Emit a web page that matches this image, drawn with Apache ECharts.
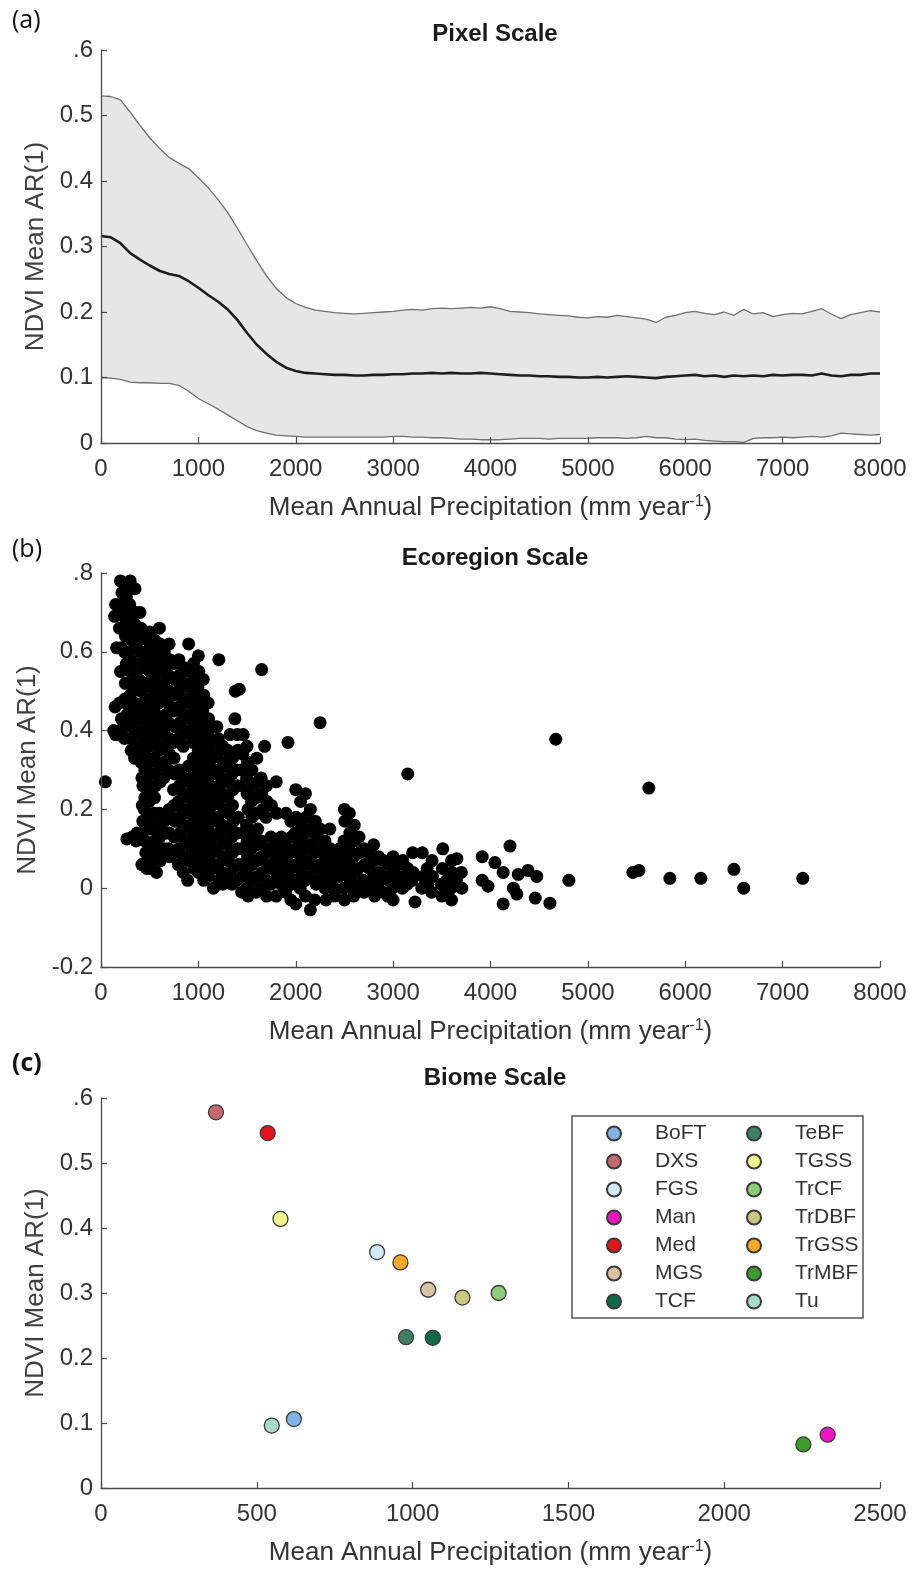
<!DOCTYPE html>
<html>
<head>
<meta charset="utf-8">
<title>NDVI Mean AR(1) vs Mean Annual Precipitation</title>
<script src="https://cdn.jsdelivr.net/npm/echarts@6/dist/echarts.min.js"></script>
<style>
  html, body { margin: 0; padding: 0; background: #fff; }
  #chart { width: 912px; height: 1570px; }
</style>
</head>
<body>
<div id="chart"></div>
<script>
// ---------- (a) Pixel scale: band of AR(1) across precipitation ----------
const pixelPrecip = [
  0, 100, 200, 300, 400, 500, 600, 700, 800, 900,
  1000, 1100, 1200, 1300, 1400, 1500, 1600, 1700, 1800, 1900,
  2000, 2100, 2200, 2300, 2400, 2500, 2600, 2700, 2800, 2900,
  3000, 3100, 3200, 3300, 3400, 3500, 3600, 3700, 3800, 3900,
  4000, 4100, 4200, 4300, 4400, 4500, 4600, 4700, 4800, 4900,
  5000, 5100, 5200, 5300, 5400, 5500, 5600, 5700, 5800, 5900,
  6000, 6100, 6200, 6300, 6400, 6500, 6600, 6700, 6800, 6900,
  7000, 7100, 7200, 7300, 7400, 7500, 7600, 7700, 7800, 7900, 8000
];
const pixelUpper = [
  0.530, 0.529, 0.524, 0.505, 0.485, 0.466, 0.450, 0.436, 0.427, 0.419,
  0.405, 0.390, 0.372, 0.352, 0.328, 0.303, 0.278, 0.255, 0.236, 0.222,
  0.213, 0.207, 0.203, 0.201, 0.199, 0.198, 0.197, 0.198, 0.199, 0.200,
  0.201, 0.203, 0.204, 0.203, 0.205, 0.206, 0.205, 0.206, 0.207, 0.206,
  0.208, 0.205, 0.201, 0.200, 0.199, 0.197, 0.196, 0.195, 0.194, 0.192,
  0.191, 0.193, 0.192, 0.195, 0.193, 0.191, 0.189, 0.184, 0.192, 0.195,
  0.199, 0.201, 0.198, 0.196, 0.200, 0.195, 0.204, 0.197, 0.199, 0.193,
  0.196, 0.198, 0.197, 0.201, 0.205, 0.197, 0.190, 0.196, 0.199, 0.202, 0.200
];
const pixelMean = [
  0.316, 0.314, 0.305, 0.290, 0.280, 0.271, 0.263, 0.258, 0.255, 0.247,
  0.237, 0.226, 0.216, 0.204, 0.188, 0.168, 0.150, 0.136, 0.124, 0.115,
  0.110, 0.107, 0.106, 0.105, 0.104, 0.104, 0.103, 0.103, 0.104, 0.104,
  0.105, 0.105, 0.106, 0.106, 0.107, 0.106, 0.107, 0.106, 0.106, 0.107,
  0.106, 0.105, 0.104, 0.103, 0.103, 0.102, 0.102, 0.101, 0.101, 0.100,
  0.100, 0.101, 0.100, 0.101, 0.102, 0.101, 0.100, 0.099, 0.101, 0.102,
  0.103, 0.104, 0.102, 0.103, 0.101, 0.103, 0.102, 0.103, 0.102, 0.104,
  0.103, 0.104, 0.104, 0.103, 0.106, 0.103, 0.102, 0.104, 0.104, 0.106, 0.106
];
const pixelLower = [
  0.100, 0.099, 0.097, 0.093, 0.092, 0.092, 0.091, 0.091, 0.088, 0.079,
  0.068, 0.060, 0.052, 0.043, 0.034, 0.025, 0.019, 0.015, 0.012, 0.011,
  0.010, 0.009, 0.009, 0.009, 0.009, 0.009, 0.009, 0.009, 0.009, 0.009,
  0.010, 0.010, 0.009, 0.009, 0.008, 0.008, 0.007, 0.006, 0.006, 0.005,
  0.005, 0.005, 0.006, 0.007, 0.007, 0.007, 0.006, 0.007, 0.007, 0.007,
  0.007, 0.008, 0.008, 0.008, 0.007, 0.008, 0.010, 0.008, 0.008, 0.006,
  0.005, 0.006, 0.004, 0.003, 0.002, 0.002, 0.001, 0.007, 0.008, 0.008,
  0.009, 0.008, 0.009, 0.010, 0.009, 0.011, 0.015, 0.014, 0.013, 0.012, 0.013
];

// ---------- (b) Ecoregion scale: [precipitation, AR(1)] per ecoregion ----------
const ecoregionPoints = [
  [45,0.27],
  [150,0.72],[140,0.69],[160,0.61],[145,0.46],[130,0.40],[150,0.39],
  [200,0.78],[215,0.75],[195,0.72],[205,0.70],[190,0.66],[210,0.61],[200,0.55],[190,0.47],[210,0.43],[195,0.40],
  [250,0.77],[260,0.74],[245,0.71],[255,0.68],[250,0.64],[240,0.60],[260,0.57],[250,0.52],[245,0.48],[265,0.44],[250,0.41],[240,0.38],[265,0.125],
  [300,0.78],[310,0.76],[295,0.72],[305,0.69],[300,0.66],[315,0.63],[295,0.60],[305,0.58],[300,0.55],[310,0.52],[300,0.49],[290,0.46],[305,0.42],[300,0.38],[310,0.35],[320,0.13],
  [350,0.76],[360,0.70],[345,0.67],[355,0.64],[350,0.61],[340,0.57],[360,0.54],[350,0.51],[345,0.47],[355,0.44],[350,0.40],[360,0.36],[345,0.33],[370,0.14],[360,0.12],
  [400,0.70],[410,0.66],[395,0.63],[405,0.60],[400,0.57],[390,0.53],[410,0.50],[400,0.46],[395,0.43],[405,0.39],[400,0.35],[410,0.32],[420,0.28],[430,0.26],[425,0.21],[430,0.17],[410,0.13],[420,0.06],
  [450,0.64],[455,0.60],[445,0.56],[450,0.52],[460,0.48],[445,0.45],[450,0.41],[455,0.37],[445,0.34],[450,0.30],[460,0.27],[450,0.23],[445,0.20],[455,0.16],[450,0.12],[460,0.09],[445,0.06],[470,0.05],
  [500,0.65],[505,0.62],[495,0.58],[500,0.55],[510,0.51],[495,0.47],[500,0.43],[505,0.39],[495,0.36],[500,0.32],[510,0.29],[500,0.25],[495,0.22],[505,0.18],[500,0.15],[510,0.11],[500,0.07],[515,0.05],
  [550,0.63],[555,0.60],[545,0.56],[550,0.53],[560,0.49],[545,0.45],[550,0.41],[555,0.37],[545,0.33],[550,0.29],[560,0.26],[550,0.23],[545,0.19],[555,0.15],[550,0.12],[560,0.09],[570,0.04],
  [600,0.66],[605,0.62],[595,0.58],[600,0.55],[610,0.51],[595,0.47],[600,0.43],[605,0.39],[595,0.35],[600,0.31],[610,0.27],[600,0.19],[595,0.16],[605,0.13],[600,0.10],[610,0.07],
  [650,0.60],[655,0.56],[645,0.52],[650,0.48],[660,0.44],[645,0.40],[650,0.36],[655,0.32],[645,0.28],[650,0.17],[660,0.14],[650,0.10],
  [700,0.62],[705,0.58],[695,0.54],[700,0.50],[710,0.46],[695,0.42],[700,0.38],[705,0.34],[695,0.30],[700,0.20],[710,0.18],[700,0.14],[695,0.10],[705,0.08],
  [750,0.57],[755,0.53],[745,0.49],[750,0.45],[760,0.41],[745,0.37],[750,0.33],[755,0.29],[745,0.25],[750,0.21],[760,0.17],[750,0.13],[745,0.09],
  [800,0.58],[805,0.54],[795,0.50],[800,0.46],[810,0.42],[795,0.38],[800,0.30],[805,0.26],[795,0.22],[800,0.18],[810,0.14],[800,0.10],[795,0.06],
  [850,0.56],[855,0.52],[845,0.48],[850,0.44],[860,0.40],[845,0.36],[850,0.28],[855,0.24],[845,0.20],[850,0.16],[860,0.12],[850,0.08],[845,0.04],
  [900,0.62],[905,0.55],[895,0.51],[900,0.47],[910,0.43],[895,0.39],[900,0.31],[905,0.27],[895,0.23],[900,0.19],[910,0.15],[900,0.11],[895,0.07],[890,0.02],
  [950,0.57],[955,0.53],[945,0.49],[950,0.45],[960,0.41],[945,0.37],[950,0.33],[955,0.29],[945,0.25],[950,0.21],[960,0.17],[950,0.13],[945,0.09],[955,0.05],
  [1000,0.59],[1005,0.55],[995,0.51],[1000,0.47],[1010,0.43],[995,0.39],[1000,0.35],[1005,0.31],[995,0.27],[1000,0.23],[1010,0.19],[1000,0.15],[995,0.11],[1005,0.07],[1000,0.04],
  [1050,0.53],[1055,0.49],[1045,0.45],[1050,0.41],[1060,0.37],[1045,0.33],[1050,0.29],[1055,0.25],[1045,0.21],[1050,0.17],[1060,0.13],[1050,0.09],[1045,0.05],[1055,0.02],
  [1100,0.47],[1105,0.43],[1095,0.39],[1100,0.35],[1110,0.31],[1095,0.27],[1100,0.23],[1105,0.19],[1095,0.15],[1100,0.11],[1110,0.07],[1100,0.03],
  [1150,0.41],[1155,0.37],[1145,0.33],[1150,0.29],[1160,0.25],[1145,0.21],[1150,0.17],[1155,0.13],[1145,0.09],[1150,0.05],[1155,0.00],
  [1210,0.58],[1190,0.41],[1205,0.38],[1195,0.34],[1200,0.30],[1210,0.26],[1195,0.22],[1200,0.18],[1205,0.14],[1195,0.10],[1200,0.06],[1210,0.02],
  [1250,0.36],[1255,0.32],[1245,0.28],[1250,0.24],[1260,0.20],[1245,0.16],[1250,0.12],[1255,0.08],[1245,0.04],[1250,0.01],
  [1325,0.39],[1300,0.35],[1295,0.31],[1305,0.27],[1300,0.23],[1310,0.19],[1295,0.15],[1300,0.11],[1305,0.07],[1295,0.03],
  [1375,0.43],[1350,0.33],[1345,0.29],[1355,0.25],[1350,0.21],[1360,0.17],[1345,0.13],[1350,0.09],[1355,0.05],[1345,0.01],
  [1380,0.50],[1420,0.505],[1400,0.39],[1405,0.35],[1395,0.30],[1400,0.26],[1410,0.18],[1395,0.14],[1400,0.10],[1405,0.06],[1395,0.02],
  [1460,0.39],[1455,0.34],[1445,0.30],[1450,0.26],[1460,0.14],[1445,0.10],[1450,0.06],[1455,0.03],[1445,-0.01],
  [1500,0.36],[1505,0.32],[1495,0.28],[1500,0.24],[1510,0.20],[1495,0.16],[1500,0.12],[1505,0.08],[1495,0.04],[1500,0.00],[1510,-0.02],
  [1550,0.30],[1555,0.26],[1545,0.22],[1550,0.18],[1560,0.14],[1545,0.10],[1550,0.06],[1555,0.02],
  [1600,0.33],[1605,0.27],[1595,0.23],[1600,0.19],[1610,0.15],[1595,0.11],[1600,0.07],[1605,0.03],[1595,-0.01],
  [1650,0.555],[1680,0.36],[1645,0.28],[1650,0.24],[1660,0.20],[1645,0.12],[1650,0.08],[1655,0.04],[1645,0.00],
  [1700,0.26],[1705,0.22],[1695,0.18],[1700,0.10],[1710,0.06],[1695,0.02],[1700,-0.02],
  [1750,0.21],[1745,0.13],[1755,0.09],[1750,0.05],[1745,0.01],
  [1800,0.27],[1805,0.19],[1795,0.11],[1800,0.07],[1810,0.03],[1800,-0.02],
  [1850,0.13],[1855,0.09],[1845,0.05],[1850,0.01],
  [1920,0.37],[1900,0.19],[1895,0.11],[1905,0.07],[1900,0.03],[1895,-0.01],
  [1950,0.17],[1955,0.13],[1945,0.09],[1950,0.05],[1960,0.01],[1950,-0.03],
  [2000,0.25],[2005,0.18],[1995,0.14],[2000,0.10],[2010,0.06],[1995,0.02],[2000,-0.04],
  [2050,0.22],[2055,0.16],[2045,0.12],[2050,0.08],[2060,0.04],[2045,0.00],
  [2100,0.24],[2105,0.18],[2095,0.14],[2100,0.10],[2110,0.06],[2095,0.02],[2100,-0.02],
  [2150,0.20],[2155,0.15],[2145,0.11],[2150,0.07],[2160,0.03],[2150,-0.055],
  [2200,0.17],[2205,0.13],[2195,0.09],[2200,0.05],[2210,0.01],[2195,-0.03],
  [2250,0.42],[2250,0.15],[2245,0.10],[2255,0.06],[2250,0.02],
  [2300,0.12],[2305,0.08],[2295,0.04],[2300,0.00],[2310,-0.03],
  [2350,0.15],[2355,0.10],[2345,0.06],[2350,0.02],
  [2400,0.08],[2405,0.04],[2395,0.00],[2400,-0.02],
  [2450,0.10],[2455,0.06],[2445,0.03],
  [2500,0.20],[2505,0.17],[2495,0.12],[2500,0.08],[2510,0.04],[2495,0.00],[2500,-0.03],
  [2550,0.19],[2555,0.14],[2545,0.10],[2550,0.06],[2560,0.02],
  [2600,0.16],[2605,0.12],[2595,0.08],[2600,0.04],[2610,0.00],[2595,-0.02],
  [2650,0.13],[2655,0.09],[2645,0.05],[2650,0.01],
  [2700,0.10],[2705,0.06],[2695,0.02],[2700,-0.01],
  [2750,0.09],[2755,0.05],[2745,0.01],
  [2800,0.11],[2805,0.07],[2795,0.03],[2800,0.00],[2810,-0.02],
  [2850,0.08],[2855,0.04],[2845,0.01],
  [2900,0.07],[2905,0.03],[2895,-0.01],
  [2950,0.06],[2955,0.02],[2945,-0.02],
  [3000,0.08],[3005,0.04],[2995,0.00],[3000,-0.03],
  [3050,0.06],[3055,0.02],
  [3100,0.07],[3105,0.03],[3095,0.00],
  [3150,0.29],[3150,0.05],[3145,0.01],
  [3200,0.09],[3205,0.04],[3195,0.02],[3225,-0.035],
  [3300,0.09],[3305,0.03],[3295,0.00],
  [3350,0.05],[3355,0.01],
  [3400,0.07],[3405,0.03],[3395,-0.01],
  [3510,0.10],[3505,0.05],[3495,0.01],[3500,-0.02],
  [3550,0.02],[3555,-0.01],
  [3600,0.07],[3605,0.04],[3595,0.00],[3600,-0.03],
  [3655,0.075],[3650,0.02],
  [3700,0.04],[3705,0.00],
  [3915,0.08],[3915,0.02],[3975,0.005],[4045,0.065],[4130,0.04],[4130,-0.04],
  [4200,0.107],[4235,0.00],[4270,-0.015],[4285,0.035],[4385,0.045],[4460,-0.025],[4475,0.03],
  [4610,-0.038],[4670,0.378],[4805,0.02],[5462,0.04],[5524,0.045],[5626,0.254],
  [5842,0.025],[6160,0.025],[6500,0.048],[6600,0.00],[7207,0.025]
];

// ---------- (c) Biome scale ----------
const biomeNames  = ['BoFT', 'DXS', 'FGS', 'Man', 'Med', 'MGS', 'TCF',
                     'TeBF', 'TGSS', 'TrCF', 'TrDBF', 'TrGSS', 'TrMBF', 'Tu'];
const biomePrecip = [619, 369, 886, 2332, 535, 1050, 1065,
                     979, 576, 1276, 1160, 961, 2254, 548];
const biomeAR     = [0.106, 0.578, 0.363, 0.082, 0.546, 0.305, 0.231,
                     0.232, 0.414, 0.300, 0.293, 0.347, 0.067, 0.096];
const biomeColors = ['#7fb3e6', '#c26a6c', '#d2e8f6', '#ee16c4', '#e3141b', '#d8c4a4', '#0e6a47',
                     '#3f7f62', '#f4f48c', '#8ecb7a', '#c9c97e', '#f5a82a', '#3c9b2a', '#a8d9c9'];

// Tick labels
const yTicksA = ['0', '0.1', '0.2', '0.3', '0.4', '0.5', '.6'];
const yTicksB = ['-0.2', '0', '0.2', '0.4', '0.6', '.8'];
const yTicksC = ['0', '0.1', '0.2', '0.3', '0.4', '0.5', '.6'];
const xTicksAB = ['0', '1000', '2000', '3000', '4000', '5000', '6000', '7000', '8000'];
const xTicksC = ['0', '500', '1000', '1500', '2000', '2500'];

const FONT = 'Liberation Sans, Arial, sans-serif';
const AXIS_COLOR = '#4a4a4a';
const TEXT_COLOR = '#333';

function tickLookup(labels, min, step) {
  return function (v) {
    const i = Math.round((v - min) / step);
    return labels[i] !== undefined ? labels[i] : '';
  };
}

const xName = 'Mean Annual Precipitation (mm year{sup|-1})';
const nameRich = {
  sup: { fontSize: 16, fontFamily: FONT, color: TEXT_COLOR, verticalAlign: 'bottom', padding: [0, 0, 12, 0] }
};

function xAxisCfg(gridIndex, max, interval, labels) {
  return {
    type: 'value', gridIndex, min: 0, max, interval, z: 5,
    name: xName, nameLocation: 'middle', nameGap: 51,
    nameTextStyle: { fontSize: 26, fontFamily: FONT, color: TEXT_COLOR, rich: nameRich },
    axisLine: { show: true, onZero: false, lineStyle: { color: AXIS_COLOR, width: 1.3 } },
    axisTick: { show: true, inside: true, length: 6, lineStyle: { color: AXIS_COLOR, width: 1.2 } },
    axisLabel: { fontSize: 24, fontFamily: FONT, color: TEXT_COLOR, margin: 14,
                 formatter: tickLookup(labels, 0, interval), showMaxLabel: true, showMinLabel: true },
    splitLine: { show: false }
  };
}

function yAxisCfg(gridIndex, min, max, interval, labels) {
  return {
    type: 'value', gridIndex, min, max, interval, z: 5,
    name: 'NDVI Mean AR(1)', nameLocation: 'middle', nameGap: 49,
    nameTextStyle: { fontSize: 26, fontFamily: FONT, color: '#404040' },
    axisLine: { show: true, lineStyle: { color: AXIS_COLOR, width: 1.3 } },
    axisTick: { show: true, inside: true, length: 6, lineStyle: { color: AXIS_COLOR, width: 1.2 } },
    axisLabel: { fontSize: 24, fontFamily: FONT, color: TEXT_COLOR, margin: 8,
                 formatter: tickLookup(labels, min, interval), showMaxLabel: true, showMinLabel: true },
    splitLine: { show: false }
  };
}

const pairs = ys => pixelPrecip.map((x, i) => [x, ys[i]]);

const biomeSeries = biomeNames.map((name, i) => ({
  name, type: 'scatter', xAxisIndex: 2, yAxisIndex: 2,
  symbol: 'circle', symbolSize: 15,
  itemStyle: { color: biomeColors[i], borderColor: '#3a3a3a', borderWidth: 1.3, opacity: 1 },
  data: [[biomePrecip[i], biomeAR[i]]]
}));

const legendCommon = {
  orient: 'vertical', top: 1123, padding: 0,
  icon: 'circle', itemWidth: 72, itemHeight: 14, itemGap: 7,
  textStyle: { fontSize: 21, fontFamily: FONT, color: TEXT_COLOR, lineHeight: 21 },
  selectedMode: false
};

const titleStyle = { fontSize: 24, fontWeight: 'bold', fontFamily: FONT, color: '#1a1a1a' };

const option = {
  animation: false,
  backgroundColor: '#fff',
  grid: [
    { left: 101, right: 32, top: 50, height: 393 },
    { left: 101, right: 32, top: 573, height: 394 },
    { left: 101, right: 32, top: 1098, height: 390 }
  ],
  title: [
    { text: 'Pixel Scale', left: 490, top: 17, textAlign: 'center', textStyle: titleStyle },
    { text: 'Ecoregion Scale', left: 490, top: 541, textAlign: 'center', textStyle: titleStyle },
    { text: 'Biome Scale', left: 490, top: 1061, textAlign: 'center', textStyle: titleStyle }
  ],
  legend: [
    Object.assign({ left: 606, data: biomeNames.slice(0, 7) }, legendCommon),
    Object.assign({ left: 746, data: biomeNames.slice(7) }, legendCommon)
  ],
  xAxis: [
    xAxisCfg(0, 8000, 1000, xTicksAB),
    xAxisCfg(1, 8000, 1000, xTicksAB),
    xAxisCfg(2, 2500, 500, xTicksC)
  ],
  yAxis: [
    yAxisCfg(0, 0, 0.6, 0.1, yTicksA),
    yAxisCfg(1, -0.2, 0.8, 0.2, yTicksB),
    yAxisCfg(2, 0, 0.6, 0.1, yTicksC)
  ],
  graphic: [
    { type: 'text', left: 12, top: 8, style: { text: '(a)', fontSize: 25, fontFamily: 'Open Sans, sans-serif', fill: '#111' } },
    { type: 'text', left: 12, top: 537, style: { text: '(b)', fontSize: 25, fontFamily: 'Open Sans, sans-serif', fill: '#111' } },
    { type: 'text', left: 12, top: 1051, style: { text: '(c)', fontSize: 25, fontWeight: 'bold', fontFamily: 'Open Sans, sans-serif', fill: '#111' } },
    { type: 'rect', shape: { x: 572, y: 1116, width: 291, height: 202 }, z: 10,
      style: { fill: 'none', stroke: '#555', lineWidth: 1.5 } }
  ],
  series: [
    // upper bound: grey fill down to the axis
    { type: 'line', xAxisIndex: 0, yAxisIndex: 0, showSymbol: false,
      lineStyle: { color: '#707070', width: 1.3 },
      areaStyle: { color: '#e6e6e6', opacity: 1, origin: 'start' },
      data: pairs(pixelUpper), z: 2 },
    // lower bound: white fill below it leaves the grey band between the bounds
    { type: 'line', xAxisIndex: 0, yAxisIndex: 0, showSymbol: false,
      lineStyle: { color: '#707070', width: 1.3 },
      areaStyle: { color: '#ffffff', opacity: 1, origin: 'start' },
      data: pairs(pixelLower), z: 3 },
    // mean
    { type: 'line', xAxisIndex: 0, yAxisIndex: 0, showSymbol: false,
      lineStyle: { color: '#1e1e1e', width: 2.6 }, data: pairs(pixelMean), z: 4 },
    // ecoregions
    { type: 'scatter', xAxisIndex: 1, yAxisIndex: 1, symbol: 'circle', symbolSize: 13,
      itemStyle: { color: '#000', opacity: 1 }, data: ecoregionPoints }
  ].concat(biomeSeries)
};

const chart = echarts.init(document.getElementById('chart'), null, { renderer: 'canvas' });
chart.setOption(option);
</script>
</body>
</html>
